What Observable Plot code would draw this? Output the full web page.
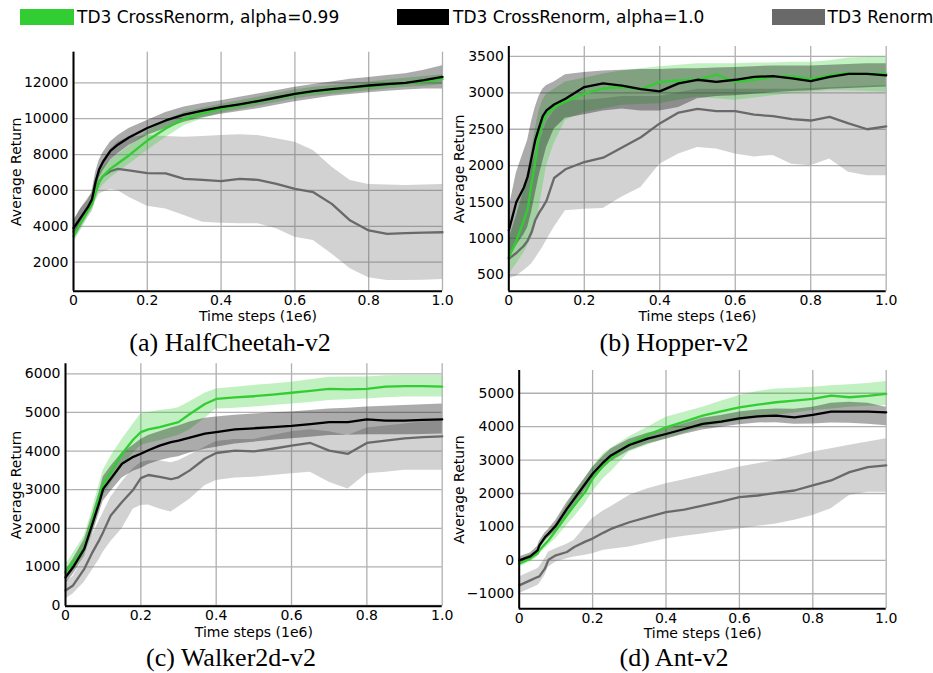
<!DOCTYPE html>
<html>
<head>
<meta charset="utf-8">
<script src="https://cdn.jsdelivr.net/npm/d3@7"></script>
<script src="https://cdn.jsdelivr.net/npm/@observablehq/plot@0.6"></script>
<style>
  html, body { margin: 0; padding: 0; background: #fff; }
  #root { position: relative; width: 933px; height: 673px; overflow: hidden; background: #fff; }
  .panel { position: absolute; }
  .cap { position: absolute; width: 320px; text-align: center; font-family: "Liberation Serif", "Times New Roman", serif; font-size: 26px; line-height: 20px; color: #000; white-space: nowrap; }
  .leg { position: absolute; font-family: "DejaVu Sans", sans-serif; font-size: 17px; line-height: 17px; color: #000; white-space: nowrap; }
  .sw { position: absolute; height: 16px; top: 9px; }
</style>
</head>
<body>
<div id="root"></div>
<script>
// ---------- legend / series ----------
const seriesNames = ["TD3 CrossRenorm, alpha=0.99", "TD3 CrossRenorm, alpha=1.0", "TD3 Renorm"];
const seriesColors = ["#32cd32", "#000000", "#696969"];
const xTicks = [0, 0.2, 0.4, 0.6, 0.8, 1.0];
const captions = ["(a) HalfCheetah-v2", "(b) Hopper-v2", "(c) Walker2d-v2", "(d) Ant-v2"];

// ---------- (a) HalfCheetah-v2 ----------
const halfSteps = [0, .02, .04, .05, .06, .07, .08, .1, .12, .15, .2, .25, .3, .35, .4, .45, .5, .55, .6, .65, .7, .75, .8, .85, .9, .95, 1.0];
const halfGreen   = [3450,4200,4900,5200,5900,6500,6800,7200,7500,7950,8780,9450,9990,10300,10550,10750,10950,11150,11350,11500,11600,11700,11800,11900,11980,12080,12200];
const halfGreenLo = [3200,3900,4600,4900,5500,6000,6300,6700,7000,7450,8230,8950,9600,10000,10300,10500,10700,10900,11100,11250,11350,11450,11550,11650,11750,11800,11900];
const halfGreenHi = [3700,4500,5200,5500,6300,6900,7250,7700,8000,8450,9300,9900,10350,10600,10800,11000,11200,11400,11600,11750,11850,11950,12050,12150,12250,12350,12450];
const halfBlack   = [3900,4500,5100,5500,6500,7200,7600,8200,8550,8950,9480,9900,10230,10450,10640,10800,10980,11180,11380,11530,11650,11750,11850,11930,12000,12150,12330];
const halfBlackLo = [3300,4000,4700,5100,6000,6700,7100,7700,8050,8500,9060,9450,9800,10050,10250,10400,10550,10750,10950,11100,11250,11350,11450,11530,11600,11650,11650];
const halfBlackHi = [4300,5000,5500,5900,7000,7700,8100,8700,9050,9450,9900,10350,10650,10850,11000,11200,11380,11550,11750,11900,12050,12200,12300,12400,12500,12700,12950];
const halfGray    = [3700,4400,5100,5300,6000,6500,6800,7070,7200,7120,6960,6950,6650,6590,6520,6650,6590,6370,6090,5900,5250,4320,3770,3580,3620,3650,3670];
const halfGrayLo  = [3100,3800,4500,4800,5400,5800,5900,6050,6000,5620,5120,4970,4600,4230,4170,4150,4140,3860,3390,3210,2460,1630,1130,980,980,1000,1030];
const halfGrayHi  = [4300,5000,5600,5800,6600,7200,7600,8300,8700,8950,9060,9000,8970,9000,9060,9100,9060,8880,8690,8230,7300,6550,6330,6300,6280,6300,6330];
const halfYTicks = [2000, 4000, 6000, 8000, 10000, 12000];

// ---------- (b) Hopper-v2 ----------
const hopSteps = [0, .02, .04, .05, .06, .07, .08, .09, .1, .12, .15, .2, .25, .3, .35, .4, .45, .5, .55, .6, .65, .7, .75, .8, .85, .9, .95, 1.0];
const hopGreen   = [740,970,1250,1400,1750,2050,2400,2600,2700,2800,2880,2990,3060,3080,3050,3150,3170,3180,3250,3150,3180,3220,3230,3190,3240,3270,3260,3260];
const hopGreenLo = [500,650,800,900,1000,1150,1400,1700,2000,2300,2620,2730,2780,2830,2840,2850,2900,2940,2920,2900,2930,2960,2990,3010,3030,3030,3020,3010];
const hopGreenHi = [950,1300,1700,1900,2200,2500,2750,2900,2980,3050,3150,3200,3260,3300,3330,3360,3380,3400,3400,3400,3410,3410,3420,3420,3440,3480,3490,3490];
const hopBlack   = [1110,1500,1700,1850,2100,2350,2520,2680,2760,2840,2920,3080,3130,3100,3050,3020,3130,3180,3150,3180,3220,3230,3200,3160,3220,3260,3260,3240];
const hopBlackLo = [700,900,1050,1150,1350,1600,1850,2050,2250,2500,2650,2700,2750,2780,2750,2750,2800,2920,2950,2960,2980,3000,3020,3030,3050,3060,3070,3080];
const hopBlackHi = [1400,1900,2200,2350,2600,2800,2950,3050,3100,3150,3250,3280,3300,3310,3320,3320,3330,3330,3340,3350,3360,3370,3370,3370,3380,3390,3400,3400];
const hopGray    = [720,800,900,970,1080,1250,1350,1430,1520,1830,1950,2050,2110,2250,2390,2580,2730,2780,2750,2750,2700,2680,2640,2620,2670,2580,2500,2540];
const hopGrayLo  = [445,480,560,600,650,720,800,880,970,1150,1380,1400,1410,1570,1700,2020,2160,2250,2230,2160,2120,2140,2020,2000,2090,1910,1860,1860];
const hopGrayHi  = [1000,1300,1650,1850,2000,2150,2300,2450,2600,2750,2900,2900,2920,2950,2950,2950,3000,3050,3050,3050,3050,3050,3050,3060,3070,3080,3090,3100];
const hopYTicks = [500, 1000, 1500, 2000, 2500, 3000, 3500];

// ---------- (c) Walker2d-v2 ----------
const walkSteps = [0, .02, .05, .07, .09, .1, .12, .15, .18, .2, .22, .25, .28, .3, .33, .37, .4, .45, .5, .55, .6, .65, .7, .75, .8, .85, .9, .95, 1.0];
const walkGreen   = [860,1120,1510,2160,2850,3150,3450,3930,4300,4490,4560,4620,4700,4750,4960,5220,5350,5390,5420,5460,5510,5560,5610,5600,5610,5670,5680,5680,5670];
const walkGreenLo = [650,900,1300,1900,2500,2850,3150,3600,3950,4140,4200,4270,4350,4400,4550,4850,5090,5110,5140,5180,5220,5260,5310,5330,5350,5380,5400,5400,5400];
const walkGreenHi = [1050,1350,1800,2450,3150,3500,3850,4300,4700,4960,5000,5050,5080,5120,5280,5500,5610,5650,5700,5740,5780,5850,5910,5920,5920,5950,5960,5960,5960];
const walkBlack   = [730,990,1470,2070,2680,3020,3280,3670,3850,3930,4020,4140,4230,4270,4350,4450,4490,4560,4590,4620,4650,4700,4750,4750,4820,4790,4790,4810,4820];
const walkBlackLo = [550,800,1250,1800,2400,2700,2950,3300,3480,3550,3650,3750,3820,3850,3950,4050,4100,4180,4230,4280,4320,4360,4400,4410,4420,4420,4420,4430,4440];
const walkBlackHi = [900,1200,1700,2300,2950,3330,3600,3950,4150,4300,4400,4500,4600,4650,4750,4850,4880,4930,4960,4990,5010,5050,5090,5110,5140,5160,5180,5200,5220];
const walkGray    = [390,520,950,1350,1700,1900,2330,2680,3000,3300,3380,3330,3270,3320,3500,3800,3950,4010,3990,4060,4140,4210,4010,3930,4210,4270,4330,4360,4380];
const walkGrayLo  = [170,300,600,900,1200,1380,1650,1990,2500,2590,2600,2500,2420,2550,2750,3100,3240,3300,3320,3370,3410,3450,3190,3020,3410,3450,3500,3500,3500];
const walkGrayHi  = [600,750,1250,1800,2200,2400,2800,3200,3550,3700,3750,3750,3700,3750,3900,4100,4250,4300,4300,4400,4500,4550,4500,4400,4600,4650,4700,4750,4800];
const walkYTicks = [0, 1000, 2000, 3000, 4000, 5000, 6000];

// ---------- (d) Ant-v2 ----------
const antSteps = [0, .03, .05, .055, .07, .08, .1, .13, .15, .18, .2, .23, .25, .3, .35, .4, .45, .5, .55, .6, .65, .7, .75, .8, .85, .9, .95, 1.0];
const antGreen   = [-100,50,200,300,480,600,890,1350,1640,2050,2440,2850,3040,3490,3750,3980,4150,4330,4460,4580,4660,4730,4780,4830,4930,4880,4920,4980];
const antGreenLo = [-200,-50,100,180,350,450,650,1050,1300,1700,2050,2450,2650,3240,3450,3640,3800,3980,4080,4180,4260,4330,4410,4480,4530,4580,4610,4630];
const antGreenHi = [0,150,300,420,620,750,1100,1650,2000,2450,2800,3200,3350,3700,3980,4280,4430,4580,4760,4930,5050,5130,5150,5180,5220,5250,5290,5350];
const antBlack   = [0,120,300,450,690,800,1040,1540,1840,2290,2590,2940,3140,3450,3640,3780,3930,4080,4150,4250,4310,4330,4280,4350,4450,4450,4450,4430];
const antBlackLo = [-100,20,180,330,560,680,880,1350,1650,2100,2400,2750,2950,3280,3480,3620,3770,3900,3980,4060,4110,4120,4070,4080,4110,4100,4070,4030];
const antBlackHi = [100,220,420,570,820,930,1200,1730,2030,2480,2780,3130,3330,3620,3800,3940,4090,4250,4330,4440,4500,4530,4520,4580,4700,4730,4700,4580];
const antGray    = [-750,-600,-500,-480,-250,20,150,250,400,560,650,830,940,1140,1290,1440,1520,1640,1760,1890,1940,2020,2090,2240,2390,2640,2790,2840];
const antGrayLo  = [-1000,-850,-750,-700,-450,-200,-50,50,100,150,200,300,330,400,520,640,720,790,870,940,1020,1090,1200,1340,1540,1940,2040,2040];
const antGrayHi  = [-500,-350,-250,-200,50,250,350,480,600,1000,1250,1480,1600,1940,2140,2290,2410,2540,2660,2790,2890,2990,3110,3240,3340,3440,3540,3640];
const antYTicks = [-1000, 0, 1000, 2000, 3000, 4000, 5000];

// ---------- build ----------
function rows(steps, mean, lo, hi) {
  return steps.map((t, i) => ({t, mean: mean[i], lo: lo[i], hi: hi[i]}));
}
const fmtY = d => (d < 0 ? "\u2212" + Math.abs(d) : String(d));
const fmtX = d => (d === 0 ? "0" : d.toFixed(1));

function makePanel(cfg) {
  const sets = cfg.sets; // [green, black, gray]
  const bandOpacity = [0.3, 0.33, 0.3];
  const marks = [
    Plot.gridX(xTicks, {stroke: "#b0b0b0", strokeOpacity: 1, strokeWidth: 1.3}),
    Plot.gridY(cfg.yTicks, {stroke: "#b0b0b0", strokeOpacity: 1, strokeWidth: 1.3})
  ];
  [2, 0, 1].forEach(k => {
    marks.push(Plot.areaY(sets[k], {x: "t", y1: "lo", y2: "hi", fill: seriesColors[k], fillOpacity: bandOpacity[k]}));
  });
  [2, 0, 1].forEach(k => {
    marks.push(Plot.lineY(sets[k], {x: "t", y: "mean", stroke: seriesColors[k], strokeWidth: 2.3}));
  });
  marks.push(
    Plot.ruleX([xTicks[0]], {stroke: "#000", strokeWidth: 2}),
    Plot.ruleY([cfg.yDomain[0]], {stroke: "#000", strokeWidth: 2}),
    Plot.axisX(xTicks, {tickSize: 0, tickPadding: 4, tickFormat: fmtX, fontSize: 14, label: null, fill: "#000"}),
    Plot.axisY(cfg.yTicks, {tickSize: 0, tickPadding: 5, tickFormat: fmtY, fontSize: 14, label: null, fill: "#000"}),
    Plot.text(["Average Return"], {text: d => d, frameAnchor: "left", textAnchor: "middle", lineAnchor: "middle", rotate: -90, dx: cfg.ylabDx, fontSize: 14, fill: "#000"}),
    Plot.text(["Time steps (1e6)"], {text: d => d, frameAnchor: "bottom", textAnchor: "middle", lineAnchor: "middle", dy: cfg.xlabDy, fontSize: 14, fill: "#000"})
  );
  const svg = Plot.plot({
    width: cfg.w, height: cfg.h,
    marginLeft: cfg.ml, marginRight: cfg.mr, marginTop: cfg.mt, marginBottom: cfg.mb,
    x: {domain: [0, 1]},
    y: {domain: cfg.yDomain},
    style: {fontFamily: "DejaVu Sans, sans-serif", fontSize: "14px", color: "#000", background: "transparent", overflow: "visible"},
    marks
  });
  svg.classList.add("panel");
  svg.style.left = cfg.left + "px";
  svg.style.top = cfg.top + "px";
  return svg;
}

const root = document.getElementById("root");

const panels = [
  {left: 0, top: 40, w: 466, h: 300, ml: 73, mr: 24, mt: 11.7, mb: 49.3, yDomain: [384, 13705], yTicks: halfYTicks, ylabDx: -57.2, xlabDy: 25.3,
   sets: [rows(halfSteps, halfGreen, halfGreenLo, halfGreenHi), rows(halfSteps, halfBlack, halfBlackLo, halfBlackHi), rows(halfSteps, halfGray, halfGrayLo, halfGrayHi)]},
  {left: 466, top: 40, w: 467, h: 300, ml: 42.3, mr: 47.3, mt: 6, mb: 49.3, yDomain: [275, 3637], yTicks: hopYTicks, ylabDx: -48.8, xlabDy: 25.3,
   sets: [rows(hopSteps, hopGreen, hopGreenLo, hopGreenHi), rows(hopSteps, hopBlack, hopBlackLo, hopBlackHi), rows(hopSteps, hopGray, hopGrayLo, hopGrayHi)]},
  {left: 0, top: 355, w: 466, h: 300, ml: 65, mr: 24.3, mt: 8.3, mb: 49.3, yDomain: [-18, 6260], yTicks: walkYTicks, ylabDx: -49.2, xlabDy: 26,
   sets: [rows(walkSteps, walkGreen, walkGreenLo, walkGreenHi), rows(walkSteps, walkBlack, walkBlackLo, walkBlackHi), rows(walkSteps, walkGray, walkGrayLo, walkGrayHi)]},
  {left: 466, top: 355, w: 467, h: 300, ml: 52.7, mr: 47.3, mt: 15, mb: 46.7, yDomain: [-1450, 5680], yTicks: antYTicks, ylabDx: -59.2, xlabDy: 24.4,
   sets: [rows(antSteps, antGreen, antGreenLo, antGreenHi), rows(antSteps, antBlack, antBlackLo, antBlackHi), rows(antSteps, antGray, antGrayLo, antGrayHi)]}
];
panels.forEach(p => root.appendChild(makePanel(p)));

// captions
const capPos = [[230, 333.2], [674, 333.2], [231, 648.2], [674, 648.2]];
captions.forEach((c, i) => {
  const d = document.createElement("div");
  d.className = "cap";
  d.textContent = c;
  d.style.left = (capPos[i][0] - 160) + "px";
  d.style.top = capPos[i][1] + "px";
  root.appendChild(d);
});

// legend
const legSw = [[20, 54], [396.5, 52], [772, 52.6]];
const legTx = [77, 453, 827.6];
seriesNames.forEach((n, i) => {
  const s = document.createElement("div");
  s.className = "sw";
  s.style.left = legSw[i][0] + "px";
  s.style.width = legSw[i][1] + "px";
  s.style.background = seriesColors[i];
  root.appendChild(s);
  const t = document.createElement("div");
  t.className = "leg";
  t.textContent = n;
  t.style.left = legTx[i] + "px";
  t.style.top = "8.9px";
  root.appendChild(t);
});
</script>
</body>
</html>
